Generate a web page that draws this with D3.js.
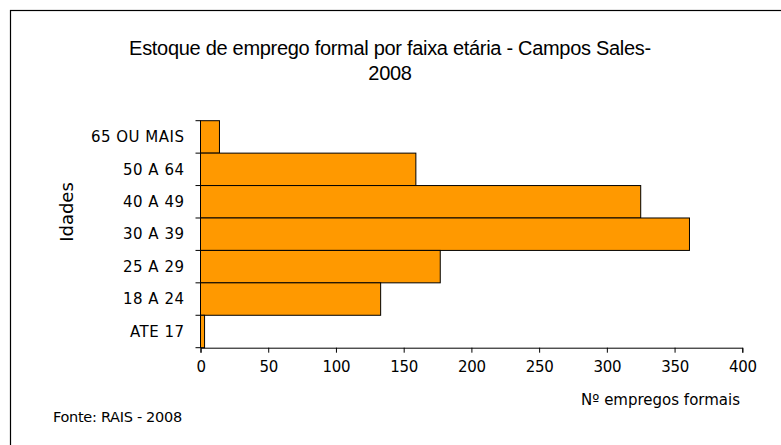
<!DOCTYPE html>
<html><head><meta charset="utf-8">
<script src="https://cdn.jsdelivr.net/npm/d3@7"></script>
<style>body{margin:0;background:#fff}svg{display:block}</style>
</head><body>
<script>
const categories = ["65 OU MAIS","50 A 64","40 A 49","30 A 39","25 A 29","18 A 24","ATE 17"];
const values = [14, 159, 325, 361, 177, 133, 3];
const xTicks = [0,50,100,150,200,250,300,350,400];
const titleLines = ["Estoque de emprego formal por faixa etária - Campos Sales-","2008"];

const W=781,H=445;
const svg=d3.select("body").append("svg").attr("width",W).attr("height",H);
svg.append("rect").attr("x",10.5).attr("y",10.5).attr("width",900).attr("height",600)
  .attr("fill","#fff").attr("stroke","#000").attr("stroke-width",1.2);

const x=d3.scaleLinear().domain([0,400]).range([200.5,742.3]);
const y=d3.scaleBand().domain(categories).range([120.7,347.7]).padding(0);

svg.selectAll("rect.bar").data(values).join("rect").attr("class","bar")
  .attr("x",x(0)).attr("y",(d,i)=>y(categories[i]))
  .attr("width",d=>x(d)-x(0)).attr("height",y.bandwidth())
  .attr("fill","#FF9900").attr("stroke","#000").attr("stroke-width",1);

// y axis
const ya=svg.append("g").attr("transform",`translate(${x(0)},0)`);
ya.append("line").attr("x1",0).attr("x2",0).attr("y1",y.range()[0]).attr("y2",y.range()[1]).attr("stroke","#000");
const bounds=categories.map(c=>y(c)).concat([y.range()[1]]);
ya.selectAll("line.t").data(bounds).join("line").attr("class","t")
  .attr("x1",-5).attr("x2",0).attr("y1",d=>d).attr("y2",d=>d).attr("stroke","#000");
ya.selectAll("text").data(categories).join("text")
  .attr("x",-16).attr("y",c=>y(c)+y.bandwidth()/2).attr("dy","0.35em")
  .attr("text-anchor","end").attr("font-family","DejaVu Sans").attr("font-size",15)
  .attr("letter-spacing",0.5).attr("fill","#000").text(c=>c);

// x axis
const xa=svg.append("g").attr("transform",`translate(0,${y.range()[1]})`)
  .call(d3.axisBottom(x).tickValues(xTicks).tickSize(5).tickSizeOuter(5).tickPadding(9).tickFormat(d3.format("d")));
xa.select(".domain").attr("stroke","#000");
xa.selectAll(".tick line").attr("stroke","#000");
xa.selectAll("text").attr("font-family","DejaVu Sans").attr("font-size",15).attr("letter-spacing",-0.3).attr("fill","#000");

svg.append("text").attr("x",67).attr("y",212).attr("transform","rotate(-90,67,212)")
  .attr("text-anchor","middle").attr("dy","0.35em").attr("font-family","DejaVu Sans").attr("font-size",18).text("Idades");

svg.append("text").attr("x",740).attr("y",405).attr("text-anchor","end")
  .attr("font-family","DejaVu Sans").attr("font-size",15).attr("letter-spacing",0).text("Nº empregos formais");

svg.append("text").attr("x",53).attr("y",422).attr("font-family","DejaVu Sans").attr("font-size",14.5).attr("letter-spacing",-0.3).text("Fonte: RAIS - 2008");

svg.selectAll("text.title").data(titleLines).join("text").attr("class","title")
  .attr("x",390).attr("y",(d,i)=>55+i*25).attr("text-anchor","middle")
  .attr("font-family","Liberation Sans").attr("font-size",20).attr("letter-spacing",-0.3).text(d=>d);
</script>
</body></html>
